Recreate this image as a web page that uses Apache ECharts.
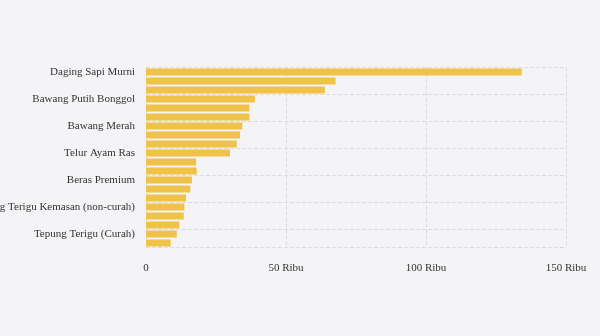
<!DOCTYPE html>
<html>
<head>
<meta charset="utf-8">
<script src="https://cdn.jsdelivr.net/npm/echarts@6/dist/echarts.min.js"></script>
<style>
html,body{margin:0;padding:0;background:#f4f4f6;}
#chart{width:600px;height:336px;}
</style>
</head>
<body>
<div id="chart"></div>
<script>
const categories = [
  "Daging Sapi Murni", "Cabai Rawit Merah", "Cabai Merah Keriting",
  "Bawang Putih Bonggol", "Daging Ayam Ras", "Cabai Merah Besar",
  "Bawang Merah", "Cabai Rawit Hijau", "Gula Konsumsi",
  "Telur Ayam Ras", "Minyak Goreng Kemasan", "Minyak Goreng Curah",
  "Beras Premium", "Kedelai Biji Kering", "Beras Medium",
  "Tepung Terigu Kemasan (non-curah)", "Garam Konsumsi", "Jagung Tingkat Peternak",
  "Tepung Terigu (Curah)", "Beras SPHP"
];
const values = [
  134200, 67700, 63900,
  38900, 36900, 36900,
  34400, 33600, 32400,
  30000, 17900, 18100,
  16400, 15800, 14300,
  13700, 13500, 11900,
  11000, 8800
];
const xTicks = [0, 50000, 100000, 150000];

const chart = echarts.init(document.getElementById('chart'));
chart.setOption({
  backgroundColor: '#f4f4f6',
  animation: false,
  grid: { left: 146, right: 34, top: 67.5, bottom: 88.5, containLabel: false, outerBoundsMode: 'none' },
  xAxis: {
    type: 'value',
    min: xTicks[0], max: xTicks[xTicks.length - 1], interval: 50000,
    axisLine: { show: false }, axisTick: { show: false },
    axisLabel: {
      margin: 15,
      color: '#333', fontFamily: 'Liberation Serif', fontSize: 11,
      formatter: v => v === 0 ? '0' : (v / 1000) + ' Ribu'
    },
    splitLine: { show: true, lineStyle: { type: 'dashed', color: '#dcdcdf', width: 1 } }
  },
  yAxis: {
    type: 'category', data: categories, inverse: true,
    axisLine: { show: false }, axisTick: { show: false },
    axisLabel: { interval: 2, margin: 11, color: '#333', fontFamily: 'Liberation Serif', fontSize: 11 },
    splitLine: { show: true, interval: 2, lineStyle: { type: 'dashed', color: '#dcdcdf', width: 1 } }
  },
  series: [{
    type: 'bar', data: values, barWidth: 7,
    itemStyle: { color: '#efc24a' }
  }]
});
</script>
</body>
</html>
